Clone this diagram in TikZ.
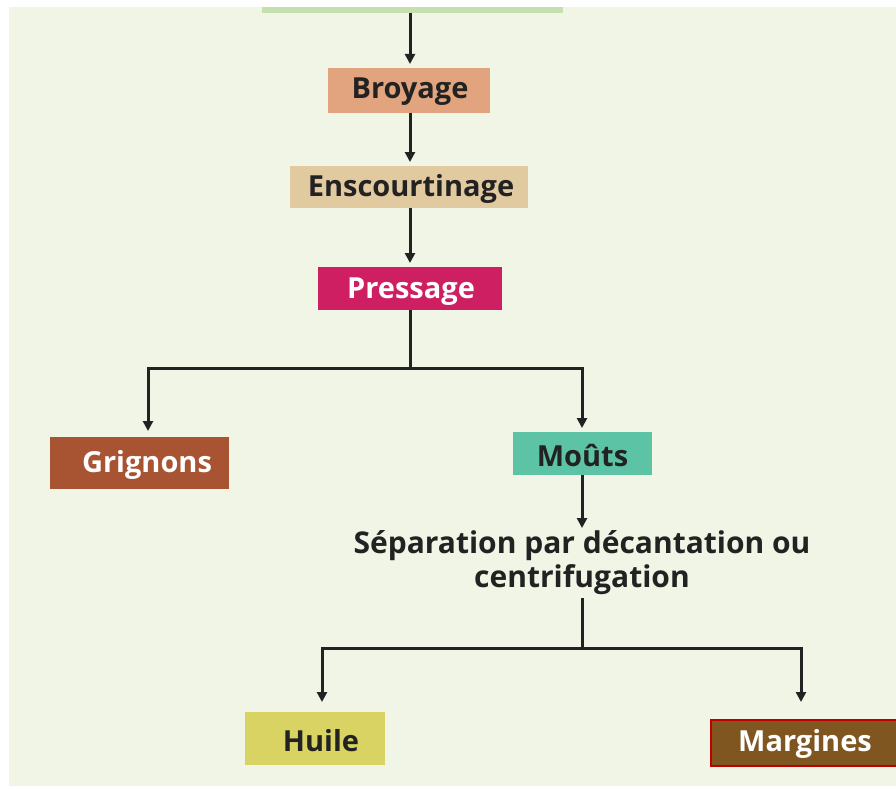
\documentclass[tikz,border=0pt]{standalone}
\usepackage{fontspec}
\setmainfont{Open Sans}
\usetikzlibrary{arrows.meta}
\definecolor{bg}{HTML}{F1F5E5}
\definecolor{topbar}{HTML}{C5E0AE}
\definecolor{cbroy}{HTML}{E2A47F}
\definecolor{cens}{HTML}{E1C9A0}
\definecolor{cpress}{HTML}{CF1F63}
\definecolor{cgrig}{HTML}{A85433}
\definecolor{cmout}{HTML}{5CC3A4}
\definecolor{chuile}{HTML}{D9D363}
\definecolor{cmarg}{HTML}{7F5620}
\definecolor{cred}{HTML}{C00000}
\definecolor{ink}{HTML}{222222}
\begin{document}
\begin{tikzpicture}[x=1pt,y=-1pt,
  box/.style={inner sep=0pt,font=\fontsize{29}{34}\selectfont\bfseries,text=ink},
  conn/.style={draw=ink,line width=3pt},
  arr/.style={conn,-{Triangle[width=10pt,length=10pt]},shorten >=4pt}]
\useasboundingbox (0,0) rectangle (896,789);
\fill[bg] (9,7) rectangle (896,786);
\fill[topbar] (262,7) rectangle (563,13);
\coordinate (top) at (410,13);
% boxes
\fill[cbroy] (328,68) rectangle (490,113);
\node[box] (broy) at (410,92) {Broyage};
\fill[cens] (290,166) rectangle (528,208);
\node[box] (ens) at (411,189) {Enscourtinage};
\fill[cpress] (318,267) rectangle (502,310);
\node[box,text=white] (press) at (411,292) {Pressage};
\fill[cgrig] (50,437) rectangle (229,489);
\node[box,text=white] (grig) at (147,465) {Grignons};
\fill[cmout] (513,432) rectangle (652,475);
\node[box] (mout) at (582.5,456) {Moûts};
\node[box,align=center,font=\fontsize{30}{34}\selectfont\bfseries] (sep) at (582,563) {Séparation par décantation ou\\centrifugation};
\fill[chuile] (245,712) rectangle (385,765);
\node[box] (huile) at (321,741) {Huile};
\fill[cmarg] (710,719) rectangle (896,767);
\draw[cred,line width=2pt] (897,720) -- (711,720) -- (711,766) -- (897,766);
\node[box,text=white] (marg) at (805,744) {Margines};
% coordinates for connectors
\coordinate (b0) at (410,68);
\coordinate (b1) at (410,113);
\coordinate (e0) at (410,166);
\coordinate (e1) at (410,208);
\coordinate (p0) at (410,267);
\coordinate (p1) at (410,310);
\coordinate (j1) at (410,368);
\coordinate (jl) at (148,368);
\coordinate (jr) at (582,368);
\coordinate (g0) at (148,437);
\coordinate (m0) at (582,432);
\coordinate (m1) at (582,475);
\coordinate (s0) at (582,528);
\coordinate (s1) at (582,598);
\coordinate (k1) at (582,648);
\coordinate (kl) at (322,648);
\coordinate (kr) at (801,648);
\coordinate (h0) at (322,712);
\coordinate (r0) at (801,719);
% connectors
\draw[arr] (top) -- (b0);
\draw[arr] (b1) -- (e0);
\draw[arr] (e1) -- (p0);
\draw[conn] (p1) -- (j1);
\draw[arr,shorten >=6pt] (j1) -- (jl) -- (g0);
\draw[arr] (j1) -- (jr) -- (m0);
\draw[arr,shorten >=0pt] (m1) -- (s0);
\draw[conn] (s1) -- (k1);
\draw[arr,shorten >=10pt] (k1) -- (kl) -- (h0);
\draw[arr,shorten >=17pt] (k1) -- (kr) -- (r0);
\end{tikzpicture}
\end{document}
